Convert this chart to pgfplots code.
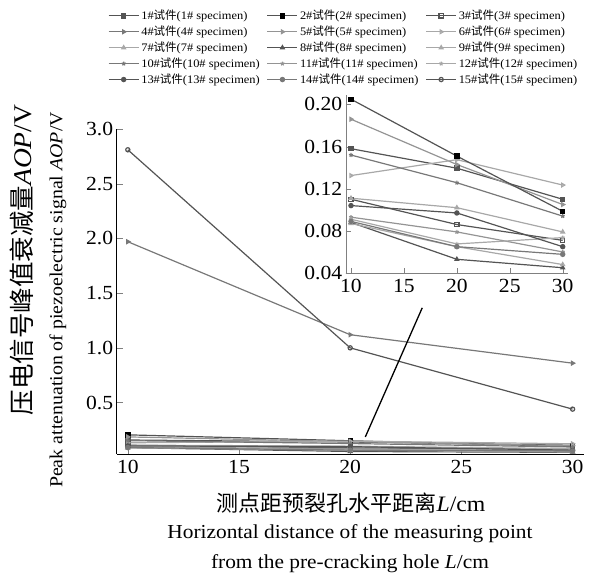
\documentclass[border=0pt]{standalone}
\usepackage{pgfplots}
\pgfplotsset{compat=1.18}
\usepackage{pgfplotstable}
\usepackage{fontspec}
\setmainfont{Liberation Serif}[FakeStretch=1.08]
\newfontfamily\cjk{Noto Sans CJK SC}

\definecolor{gD}{gray}{0.33}
\definecolor{gM}{gray}{0.47}
\definecolor{gL}{gray}{0.58}
\definecolor{gX}{gray}{0.66}

% AOP (V) per specimen at L = 10, 20, 30 cm
\pgfplotstableread{
L  s1     s2     s3    s4   s5    s6     s7    s8    s9    s10    s11   s12    s13   s14    s15
10 0.158  0.205  0.110 1.97 0.186 0.1325 0.111 0.088 0.087 0.152  0.093 0.091  0.104 0.089  2.81
20 0.1395 0.151  0.086 1.12 0.143 0.1476 0.102 0.053 0.065 0.1257 0.079 0.0676 0.097 0.065  1.00
30 0.110  0.0986 0.071 0.86 0.105 0.1235 0.079 0.045 0.048 0.094  0.060 0.0736 0.065 0.0577 0.44
}\aop

\pgfplotsset{
  ser/.style={line width=1.2pt, mark size=2.1pt},
  s1/.style={ser, gD, mark=square*},
  s2/.style={ser, gD, mark=square*, mark options={draw=black, fill=black}},
  s3/.style={ser, gD, mark=square, mark options={fill=white}},
  s4/.style={ser, gM, mark=triangle*, mark options={rotate=-90}},
  s5/.style={ser, gL, mark=triangle*, mark options={rotate=-90}},
  s6/.style={ser, gX, mark=triangle, mark options={rotate=-90, fill=white}},
  s7/.style={ser, gX, mark=triangle*},
  s8/.style={ser, gD, mark=triangle*},
  s9/.style={ser, gX, mark=triangle, mark options={fill=white}},
  s10/.style={ser, gM, mark=star},
  s11/.style={ser, gL, mark=star},
  s12/.style={ser, gX, mark=star},
  s13/.style={ser, gD, mark=*},
  s14/.style={ser, gM, mark=*},
  s15/.style={ser, gD, mark=o, mark options={fill=white}},
  tk/.style={font=\fontsize{20}{20}\selectfont},
}

\begin{document}
\begin{tikzpicture}
\useasboundingbox (-116.7pt,-121pt) rectangle (474.3pt,454pt);
\begin{axis}[name=main, at={(0pt,0pt)}, anchor=south west,
  scale only axis, width=467pt, height=325pt,
  xmin=9.5, xmax=30.5, ymin=0.03, ymax=3.0,
  axis x line*=bottom, axis y line*=left, tick align=inside,
  major tick length=6pt,
  xtick={10,15,20,25,30}, ytick={0.5,1,1.5,2,2.5,3},
  yticklabel style={/pgf/number format/fixed, /pgf/number format/fixed zerofill,
    /pgf/number format/precision=1},
  xticklabel style={yshift=-3pt},
  /pgf/number format/assume math mode=true,
  tick label style={tk},
  legend columns=3,
  legend style={draw=none, at={(-0.021,1.375)}, anchor=north west,
    font=\fontsize{11.5}{11.5}\selectfont, row sep=0.8pt, inner sep=1pt,
    /tikz/every even column/.append style={column sep=5pt}},
  legend cell align=left,
  legend image code/.code={\draw[mark repeat=2, mark phase=2, #1]
    plot coordinates {(0pt,0pt) (15pt,0pt) (30pt,0pt)};},
]
\addplot[s1] table[x=L, y=s1] {\aop}; \addlegendentry{1\#{\cjk 试件}(1\# specimen)}
\addplot[s2] table[x=L, y=s2] {\aop}; \addlegendentry{2\#{\cjk 试件}(2\# specimen)}
\addplot[s3] table[x=L, y=s3] {\aop}; \addlegendentry{3\#{\cjk 试件}(3\# specimen)}
\addplot[s4] table[x=L, y=s4] {\aop}; \addlegendentry{4\#{\cjk 试件}(4\# specimen)}
\addplot[s5] table[x=L, y=s5] {\aop}; \addlegendentry{5\#{\cjk 试件}(5\# specimen)}
\addplot[s6] table[x=L, y=s6] {\aop}; \addlegendentry{6\#{\cjk 试件}(6\# specimen)}
\addplot[s7] table[x=L, y=s7] {\aop}; \addlegendentry{7\#{\cjk 试件}(7\# specimen)}
\addplot[s8] table[x=L, y=s8] {\aop}; \addlegendentry{8\#{\cjk 试件}(8\# specimen)}
\addplot[s9] table[x=L, y=s9] {\aop}; \addlegendentry{9\#{\cjk 试件}(9\# specimen)}
\addplot[s10] table[x=L, y=s10] {\aop}; \addlegendentry{10\#{\cjk 试件}(10\# specimen)}
\addplot[s11] table[x=L, y=s11] {\aop}; \addlegendentry{11\#{\cjk 试件}(11\# specimen)}
\addplot[s12] table[x=L, y=s12] {\aop}; \addlegendentry{12\#{\cjk 试件}(12\# specimen)}
\addplot[s13] table[x=L, y=s13] {\aop}; \addlegendentry{13\#{\cjk 试件}(13\# specimen)}
\addplot[s14] table[x=L, y=s14] {\aop}; \addlegendentry{14\#{\cjk 试件}(14\# specimen)}
\addplot[s15] table[x=L, y=s15] {\aop}; \addlegendentry{15\#{\cjk 试件}(15\# specimen)}
% pointer to the inset
\draw[black, line width=1.3pt] (axis cs:20.68,0.186) -- (axis cs:23.24,1.366);
\end{axis}

\begin{axis}[at={(229pt,181pt)}, anchor=south west,
  scale only axis, width=222.3pt, height=178pt,
  xmin=9.5, xmax=30.5, ymin=0.04, ymax=0.209,
  axis x line*=bottom, axis y line*=left, tick align=inside,
  axis line style={gray}, major tick style={gray}, major tick length=5pt,
  xtick={10,15,20,25,30}, ytick={0.04,0.08,0.12,0.16,0.20},
  yticklabel style={/pgf/number format/fixed, /pgf/number format/fixed zerofill,
    /pgf/number format/precision=2},
  xticklabel style={yshift=-3pt},
  /pgf/number format/assume math mode=true,
  tick label style={tk},
]
\addplot[s1] table[x=L, y=s1] {\aop};
\addplot[s3] table[x=L, y=s3] {\aop};
\addplot[s5] table[x=L, y=s5] {\aop};
\addplot[s6] table[x=L, y=s6] {\aop};
\addplot[s7] table[x=L, y=s7] {\aop};
\addplot[s8] table[x=L, y=s8] {\aop};
\addplot[s9] table[x=L, y=s9] {\aop};
\addplot[s10] table[x=L, y=s10] {\aop};
\addplot[s11] table[x=L, y=s11] {\aop};
\addplot[s12] table[x=L, y=s12] {\aop};
\addplot[s13] table[x=L, y=s13] {\aop};
\addplot[s14] table[x=L, y=s14] {\aop};
\addplot[s2] table[x=L, y=s2] {\aop};
\end{axis}

% axis titles
\node[font=\fontsize{22}{22}\selectfont] at (234.3pt,-49pt)
  {{\cjk 测点距预裂孔水平距离}\textit{L}/cm};
\node[font=\fontsize{19.8}{19.8}\selectfont] at (233.3pt,-80pt)
  {Horizontal distance of the measuring point};
\node[font=\fontsize{19.8}{19.8}\selectfont] at (233.3pt,-110pt)
  {from the pre-cracking hole \textit{L}/cm};
\node[rotate=90, font=\fontsize{25.5}{25.5}\selectfont] at (-94.7pt,194pt)
  {{\cjk 压电信号峰值衰减量}\textit{AOP}/V};
\node[rotate=90, font=\fontsize{18.4}{18.4}\selectfont] at (-58.7pt,154pt)
  {Peak attenuation of piezoelectric signal \textit{AOP}/V};
\end{tikzpicture}
\end{document}
